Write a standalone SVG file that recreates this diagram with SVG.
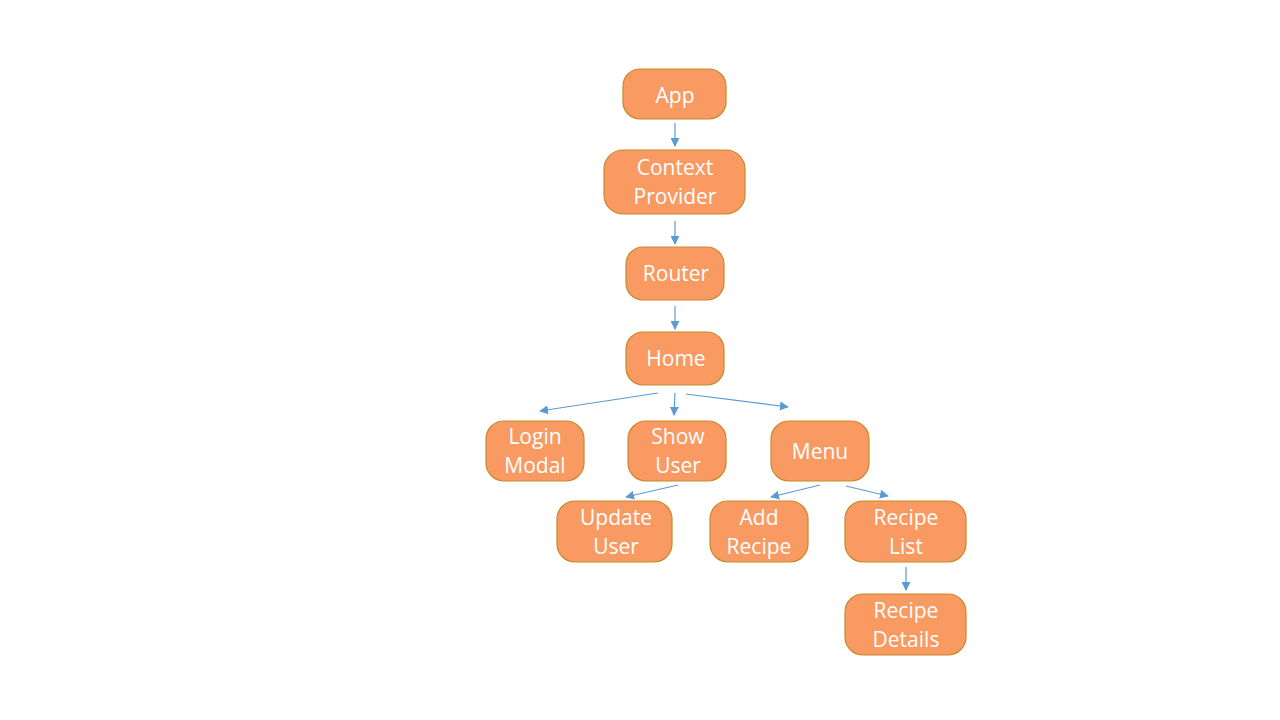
<svg xmlns="http://www.w3.org/2000/svg" width="1280" height="720" viewBox="0 0 1280 720">
<style>
.n rect{fill:#F89A62;stroke:#C9892A;stroke-width:1.2}
.n text{font-family:"Open Sans","Liberation Sans",sans-serif;font-size:21px;fill:#ffffff;text-anchor:middle}
.c line{stroke:#5B9BD5;stroke-width:1.2;marker-end:url(#ah)}
</style>
<defs>
<marker id="ah" viewBox="0 0 10 10" refX="9" refY="5" markerWidth="9" markerHeight="9" markerUnits="userSpaceOnUse" orient="auto">
<path d="M0,0 L10,5 L0,10 z" fill="#5B9BD5"/>
</marker>
</defs>
<rect width="1280" height="720" fill="#ffffff"/>
<g class="c">
<line x1="675" y1="123" x2="675" y2="146"/>
<line x1="675" y1="221" x2="675" y2="244"/>
<line x1="675" y1="306" x2="675" y2="329"/>
<line x1="658" y1="393" x2="540" y2="411"/>
<line x1="675" y1="393" x2="674" y2="415"/>
<line x1="686" y1="394" x2="788" y2="407"/>
<line x1="678" y1="485" x2="626" y2="497"/>
<line x1="820" y1="485" x2="771" y2="497"/>
<line x1="846" y1="486" x2="888" y2="496"/>
<line x1="906" y1="567" x2="906" y2="590"/>
</g>
<g id="app" class="n"><rect x="623" y="69" width="103" height="50" rx="17"/><text x="675" y="103">App</text></g>
<g id="context-provider" class="n"><rect x="604" y="150" width="141" height="64" rx="19"/><text x="675" y="175">Context</text><text x="675" y="204">Provider</text></g>
<g id="router" class="n"><rect x="626" y="247" width="98" height="53" rx="17"/><text x="676" y="281">Router</text></g>
<g id="home" class="n"><rect x="626" y="332" width="98" height="53" rx="17"/><text x="676" y="366">Home</text></g>
<g id="login-modal" class="n"><rect x="486" y="421" width="98" height="60" rx="18"/><text x="535" y="444">Login</text><text x="535" y="473">Modal</text></g>
<g id="show-user" class="n"><rect x="628" y="421" width="98" height="60" rx="18"/><text x="678" y="444">Show</text><text x="678" y="473">User</text></g>
<g id="menu" class="n"><rect x="771" y="421" width="98" height="60" rx="18"/><text x="820" y="459">Menu</text></g>
<g id="update-user" class="n"><rect x="557" y="501" width="115" height="61" rx="18"/><text x="616" y="525">Update</text><text x="616" y="554">User</text></g>
<g id="add-recipe" class="n"><rect x="710" y="501" width="98" height="61" rx="18"/><text x="759" y="525">Add</text><text x="759" y="554">Recipe</text></g>
<g id="recipe-list" class="n"><rect x="845" y="501" width="121" height="61" rx="18"/><text x="906" y="525">Recipe</text><text x="906" y="554">List</text></g>
<g id="recipe-details" class="n"><rect x="845" y="594" width="121" height="61" rx="18"/><text x="906" y="618">Recipe</text><text x="906" y="647">Details</text></g>
</svg>
